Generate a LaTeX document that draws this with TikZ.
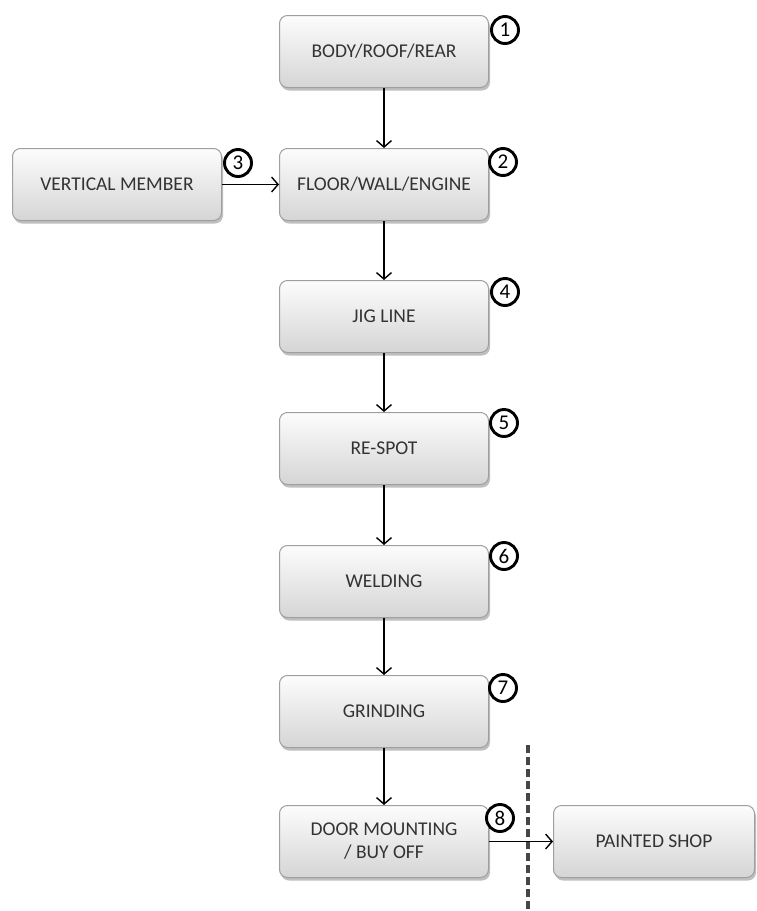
\documentclass[tikz,border=0pt]{standalone}
\usepackage{fontspec}
\setmainfont{Carlito}
\usetikzlibrary{arrows.meta,shadows}
\begin{document}
\begin{tikzpicture}[x=1pt,y=-1pt,
 box/.style={draw=gray!75, line width=1pt, rounded corners=8pt, top color=gray!2, bottom color=gray!33,
   minimum width=209pt, minimum height=72pt, anchor=north west, inner sep=2pt,
   font=\fontsize{19.5}{23}\selectfont, text=black!80, align=center,
   drop shadow={shadow xshift=1.5pt, shadow yshift=-3pt, opacity=0.5}},
 num/.style={circle, draw=black, line width=2.9pt, fill=white, minimum size=27pt,
   inner sep=0pt, font=\fontsize{21}{21}\selectfont},
 arr/.style={-{Straight Barb[length=6.5pt,width=15pt]}, line width=1.4pt}]
\fill[white] (0,0) rectangle (757,911);
\useasboundingbox (0,0) rectangle (757,911);

\node[box] (b1) at (279,15) {BODY/ROOF/REAR};
\node[box] (b2) at (279,148) {FLOOR/WALL/ENGINE};
\node[box] (b3) at (12,148) {VERTICAL MEMBER};
\node[box] (b4) at (279,280) {JIG LINE};
\node[box] (b5) at (279,412) {RE-SPOT};
\node[box] (b6) at (279,545) {WELDING};
\node[box] (b7) at (279,675) {GRINDING};
\node[box] (b8) at (279,805) {DOOR MOUNTING\\/ BUY OFF};
\node[box, minimum width=201pt] (b9) at (553,805) {PAINTED SHOP};

\node[num] (n1) at (505,30) {1};
\node[num] (n2) at (503,162) {2};
\node[num] (n3) at (238,163) {3};
\node[num] (n4) at (505,292) {4};
\node[num] (n5) at (504,423) {5};
\node[num] (n6) at (504,556) {6};
\node[num] (n7) at (503,688) {7};
\node[num] (n8) at (500,818) {8};

\coordinate (d1) at (528,745);
\coordinate (d2) at (528,911);
\draw[gray!55!black, line width=3.4pt, dash pattern=on 8pt off 4pt] (d1) -- (d2);

\draw[arr] (b1.south) -- (b2.north);
\draw[arr] (b3.east) -- (b2.west);
\draw[arr] (b2.south) -- (b4.north);
\draw[arr] (b4.south) -- (b5.north);
\draw[arr] (b5.south) -- (b6.north);
\draw[arr] (b6.south) -- (b7.north);
\draw[arr] (b7.south) -- (b8.north);
\draw[arr] (b8.east) -- (b9.west);
\end{tikzpicture}
\end{document}
